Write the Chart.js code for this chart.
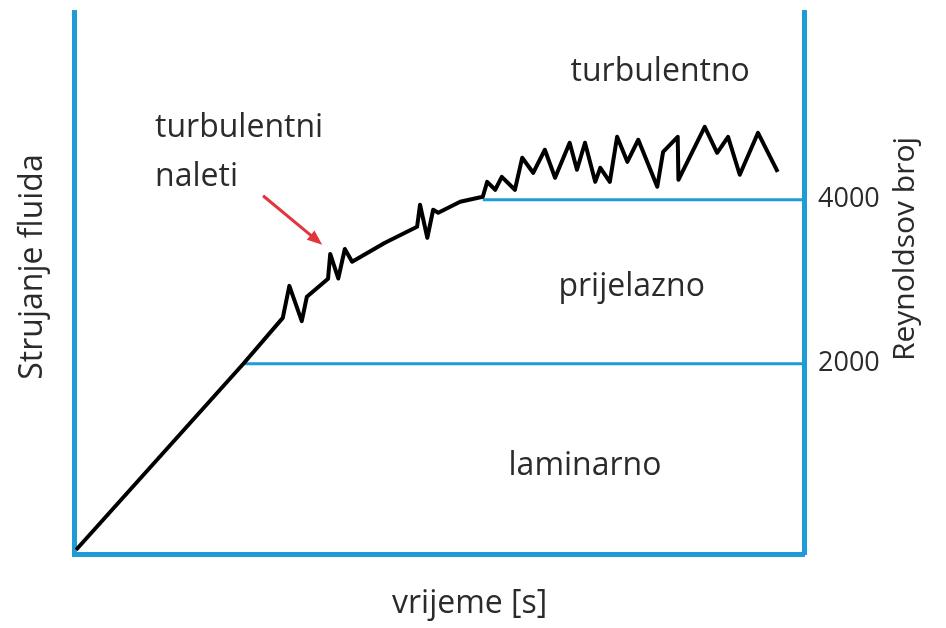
<!DOCTYPE html>
<html>
<head>
<meta charset="utf-8">
<script src="https://cdn.jsdelivr.net/npm/chart.js@4.4.1/dist/chart.umd.min.js"></script>
<style>
  html, body { margin: 0; padding: 0; background: #ffffff; }
  #wrap { width: 946px; height: 628px; }
</style>
</head>
<body>
<div id="wrap"><canvas id="flow-chart"></canvas></div>
<script>
// Flow curve: time (0-100, no units shown) vs Reynolds number
const timeValues = [0.3, 23.2, 28.6, 29.5, 31.2, 31.9, 34.8, 35.1, 36.2, 37.1, 38.1, 42.6, 47.0,
    47.4, 48.4, 49.2, 49.9, 52.9, 56.0, 56.6, 57.7, 58.6, 60.4, 61.4, 62.9, 64.5, 65.9, 67.9,
    68.9, 70.0, 71.4, 72.1, 73.4, 74.4, 75.8, 77.3, 79.9, 80.7, 82.7, 82.8, 86.4, 88.1, 89.6,
    91.2, 93.7, 96.4];
const reynoldsValues = [-268, 2000, 2560, 2950, 2520, 2817, 3037, 3340, 3040, 3400, 3244, 3476, 3671,
    3939, 3537, 3878, 3841, 3976, 4037, 4219, 4122, 4280, 4122, 4512, 4329, 4610, 4268, 4695,
    4366, 4695, 4219, 4390, 4219, 4768, 4463, 4732, 4159, 4585, 4768, 4244, 4890, 4573, 4768,
    4305, 4817, 4341];

// Limits between regimes and where the curve reaches them
const limitValues = [2000, 4000];
const limitStartTimes = [23.2, 56.0];
const reynoldsTicks = [2000, 4000];

const regionNames = ['turbulentno', 'prijelazno', 'laminarno'];
const burstLabel = ['turbulentni', 'naleti'];
const xTitle = 'vrijeme [s]';
const yTitle = 'Strujanje fluida';
const yRightTitle = 'Reynoldsov broj';

const BLUE = '#1f9bd7';
const TEXT = '#2b2b2b';
const FONT = '"Open Sans", "DejaVu Sans", sans-serif';

const curvePoints = timeValues.map((t, i) => ({ x: t, y: reynoldsValues[i] }));
const limitDatasets = limitValues.map((v, i) => ({
    data: [{ x: limitStartTimes[i], y: v }, { x: 100, y: v }],
    borderColor: BLUE,
    borderWidth: 3,
    pointRadius: 0,
    clip: false
}));

// Region names and arrow, placed in data units
const regionPos = [
    { x: 80.3, y: 5561 },
    { x: 76.4, y: 2939 },
    { x: 70.0, y: 756 }
];
const burstPos = [{ x: 11.1, y: 4878 }, { x: 11.1, y: 4280 }];
const arrowFrom = { x: 25.9, y: 4049 };
const arrowTo = { x: 34.0, y: 3451 };

// no automatic label padding, the plot box is fixed
function fixBox(scale) {
    scale.paddingTop = 0;
    scale.paddingBottom = 0;
    scale.paddingLeft = 0;
    scale.paddingRight = 0;
}

function rotatedText(ctx, text, px, py) {
    ctx.save();
    ctx.translate(px, py);
    ctx.rotate(-Math.PI / 2);
    ctx.textAlign = 'center';
    ctx.fillText(text, 0, 0);
    ctx.restore();
}

const annotationsPlugin = {
    id: 'annotations',
    afterDraw(chart) {
        const { ctx, scales: { x, y, yr } } = chart;
        ctx.save();
        ctx.fillStyle = TEXT;
        ctx.font = '32px ' + FONT;
        ctx.textBaseline = 'middle';

        ctx.textAlign = 'center';
        regionNames.forEach((name, i) => {
            ctx.fillText(name, x.getPixelForValue(regionPos[i].x), y.getPixelForValue(regionPos[i].y));
        });

        ctx.textAlign = 'left';
        burstLabel.forEach((line, i) => {
            ctx.fillText(line, x.getPixelForValue(burstPos[i].x), y.getPixelForValue(burstPos[i].y));
        });

        // axis titles
        ctx.textAlign = 'center';
        ctx.fillText(xTitle, x.getPixelForValue(54.2), x.bottom - 24);
        rotatedText(ctx, yTitle, y.left + 33, y.getPixelForValue(3180));
        ctx.font = '30px ' + FONT;
        rotatedText(ctx, yRightTitle, yr.right - 41, y.getPixelForValue(3400));

        // red arrow
        const x1 = x.getPixelForValue(arrowFrom.x), y1 = y.getPixelForValue(arrowFrom.y);
        const x2 = x.getPixelForValue(arrowTo.x), y2 = y.getPixelForValue(arrowTo.y);
        const ang = Math.atan2(y2 - y1, x2 - x1);
        ctx.strokeStyle = '#e0363c';
        ctx.fillStyle = '#e0363c';
        ctx.lineWidth = 3;
        ctx.beginPath();
        ctx.moveTo(x1, y1);
        ctx.lineTo(x2 - 10 * Math.cos(ang), y2 - 10 * Math.sin(ang));
        ctx.stroke();
        ctx.beginPath();
        ctx.moveTo(x2, y2);
        ctx.lineTo(x2 - 15 * Math.cos(ang) + 6 * Math.sin(ang), y2 - 15 * Math.sin(ang) - 6 * Math.cos(ang));
        ctx.lineTo(x2 - 15 * Math.cos(ang) - 6 * Math.sin(ang), y2 - 15 * Math.sin(ang) + 6 * Math.cos(ang));
        ctx.closePath();
        ctx.fill();
        ctx.restore();
    }
};

new Chart(document.getElementById('flow-chart'), {
    type: 'line',
    data: {
        datasets: [
            {
                data: curvePoints,
                borderColor: '#000000',
                borderWidth: 4,
                borderJoinStyle: 'round',
                pointRadius: 0,
                tension: 0,
                clip: false
            },
            ...limitDatasets
        ]
    },
    options: {
        responsive: true,
        maintainAspectRatio: false,
        animation: false,
        layout: { padding: { top: 12, left: 0, right: 0, bottom: 0 } },
        plugins: {
            legend: { display: false },
            tooltip: { enabled: false }
        },
        scales: {
            x: {
                type: 'linear',
                min: 0,
                max: 100,
                grid: { display: false, drawTicks: false },
                border: { display: true, color: BLUE, width: 5 },
                ticks: { display: false },
                afterFit: (scale) => { scale.height = 74; fixBox(scale); }
            },
            y: {
                type: 'linear',
                position: 'left',
                min: -320,
                max: 6290,
                grid: { display: false, drawTicks: false },
                border: { display: true, color: BLUE, width: 5 },
                ticks: { display: false },
                afterFit: (scale) => { scale.width = 74; fixBox(scale); }
            },
            yr: {
                type: 'linear',
                position: 'right',
                min: -320,
                max: 6290,
                grid: { display: false, drawTicks: false },
                border: { display: true, color: BLUE, width: 5 },
                afterBuildTicks: (scale) => {
                    scale.ticks = reynoldsTicks.map(v => ({ value: v }));
                },
                ticks: {
                    color: TEXT,
                    padding: 14,
                    font: { size: 27, family: FONT },
                    callback: (value) => String(value)
                },
                afterFit: (scale) => { scale.width = 142; fixBox(scale); }
            }
        }
    },
    plugins: [annotationsPlugin]
});
</script>
</body>
</html>
